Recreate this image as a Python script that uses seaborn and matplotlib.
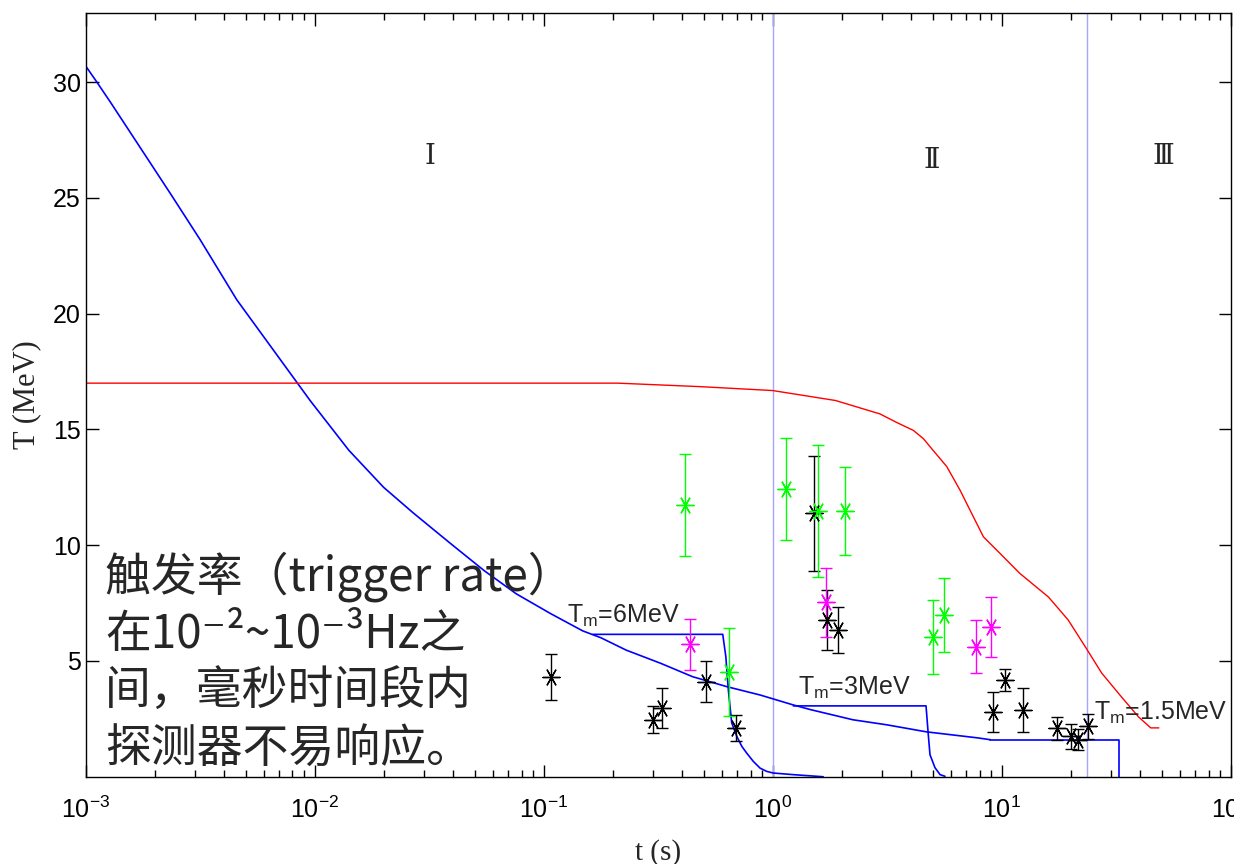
import matplotlib
matplotlib.use('Agg')
import matplotlib.pyplot as plt
import seaborn as sns
from matplotlib.ticker import LogLocator, NullFormatter

# ---- data ----
# detection threshold curve (blue, decreasing)
thr_t = [0.001, 0.00112, 0.00129, 0.00234, 0.00316, 0.00457, 0.00955,
         0.0141, 0.0200, 0.0269, 0.0389, 0.0550, 0.0759, 0.107, 0.148, 0.178,
         0.229, 0.324, 0.447, 0.631, 0.881, 1.23, 1.46, 2.24, 3.16, 4.68, 7.82, 8.91]
thr_T = [30.7, 30.0, 29.1, 25.2, 23.2, 20.6, 16.25,
         14.1, 12.5, 11.4, 10.1, 8.9, 7.9, 7.05, 6.3, 6.0,
         5.47, 4.9, 4.32, 3.89, 3.53, 3.1, 2.9, 2.46, 2.24, 1.94, 1.68, 1.6]

# red curve
red_t = [0.001, 0.21, 0.48, 1.0, 1.88, 2.94, 3.48, 4.11, 4.55, 5.01, 5.75, 6.58,
         7.28, 8.32, 9.84, 12.0, 16.0, 19.5, 23.2, 27.3, 33.3, 39.5, 44.7, 48.5]
red_T = [17.0, 17.0, 16.85, 16.68, 16.25, 15.67, 15.3, 14.96, 14.6, 14.1, 13.4, 12.37,
         11.5, 10.36, 9.64, 8.78, 7.76, 6.77, 5.6, 4.48, 3.45, 2.59, 2.11, 2.11]

# Tm step curves (blue)
tm6_t = [0.164, 0.605, 0.624, 0.640, 0.662, 0.697, 0.733, 0.770, 0.823, 0.881,
         0.942, 1.006, 1.23, 1.66]
tm6_T = [6.15, 6.15, 5.19, 3.75, 2.33, 1.74, 1.31, 1.02, 0.66, 0.37,
         0.23, 0.16, 0.09, 0.0]
tm3_t = [1.23, 4.67, 4.77, 4.86, 5.11, 5.38, 5.65]
tm3_T = [3.06, 3.06, 1.9, 0.95, 0.39, 0.09, 0.02]
tm15_t = [8.9, 32.5, 32.5]
tm15_T = [1.6, 1.6, 0.0]

# measured points
blk_t = [0.108, 0.30, 0.327, 0.51, 0.69, 1.52, 1.72, 1.93, 9.2, 10.3, 12.4, 17.5, 20.1, 21.5, 23.7]
blk_T = [4.32, 2.46, 2.96, 4.11, 2.1, 11.37, 6.77, 6.34, 2.81, 4.18, 2.89, 2.1, 1.74, 1.6, 2.17]
blk_e = [1.0, 0.58, 0.86, 0.9, 0.55, 2.5, 1.3, 1.0, 0.86, 0.48, 0.95, 0.5, 0.53, 0.45, 0.52]

grn_t = [0.413, 0.645, 1.14, 1.57, 2.07, 5.03, 5.59]
grn_T = [11.72, 4.54, 12.44, 11.47, 11.47, 6.05, 6.98]
grn_e = [2.2, 1.9, 2.2, 2.85, 1.9, 1.6, 1.6]

mag_t = [0.435, 1.70, 7.68, 9.0]
mag_T = [5.72, 7.53, 5.62, 6.48]
mag_e = [1.1, 1.5, 1.13, 1.3]

region_lines = [1.0, 23.5]
region_names = ['Ⅰ', 'Ⅱ', 'Ⅲ']
region_pos_t = [0.0319, 4.95, 50.7]
region_pos_T = [26.8, 26.6, 26.8]

tm_labels = ['$\\mathregular{T_m}$=6MeV', '$\\mathregular{T_m}$=3MeV', '$\\mathregular{T_m}$=1.5MeV']
tm_label_t = [0.1265, 1.29, 25.3]
tm_label_T = [6.64, 3.53, 2.46]

note = '触发率（trigger rate）\n在10⁻²~10⁻³Hz之\n间，毫秒时间段内\n探测器不易响应。'

# ---- style ----
sns.set_theme(style='ticks')
plt.rcParams['font.family'] = ['Liberation Sans', 'DejaVu Sans']
plt.rcParams['xtick.direction'] = 'in'
plt.rcParams['ytick.direction'] = 'in'
plt.rcParams['axes.edgecolor'] = 'black'
plt.rcParams['axes.linewidth'] = 1.0

fig = plt.figure(figsize=(12.34, 8.64), dpi=100)
ax = fig.add_axes([0.0694, 0.101, 0.928, 0.8843])

for xv in region_lines:
    ax.axvline(xv, color='#a5a5ff', lw=1.0, zorder=1)

sns.lineplot(x=thr_t, y=thr_T, ax=ax, color='blue', lw=1.2, sort=False, estimator=None)
sns.lineplot(x=red_t, y=red_T, ax=ax, color='red', lw=1.0, sort=False, estimator=None)
sns.lineplot(x=tm6_t, y=tm6_T, ax=ax, color='blue', lw=1.2, sort=False, estimator=None)
sns.lineplot(x=tm3_t, y=tm3_T, ax=ax, color='blue', lw=1.2, sort=False, estimator=None)
sns.lineplot(x=tm15_t, y=tm15_T, ax=ax, color='blue', lw=1.2, sort=False, estimator=None)

for tt, TT, ee, c in [(blk_t, blk_T, blk_e, 'black'),
                      (grn_t, grn_T, grn_e, '#00ff00'),
                      (mag_t, mag_T, mag_e, '#ff00ff')]:
    ax.errorbar(tt, TT, yerr=ee, fmt='none', ecolor=c, elinewidth=1.0, capsize=4, capthick=1.0)
    # asterisk marker: horizontal arm plus two diagonals
    sns.scatterplot(x=tt, y=TT, ax=ax, marker=(6, 2, 90), s=150, color=c,
                    edgecolor=c, linewidth=1.0, zorder=5)

ax.set_xscale('log')
ax.set_xlim(1e-3, 1e2)
ax.set_ylim(0, 33)
ax.set_yticks([5, 10, 15, 20, 25, 30])
ax.xaxis.set_minor_locator(LogLocator(base=10, subs=range(2, 10), numticks=20))
ax.xaxis.set_minor_formatter(NullFormatter())
ax.tick_params(which='both', top=True, right=True, labelsize=18, colors='black')
ax.tick_params(which='major', length=9, width=1)
ax.tick_params(which='minor', length=5, width=1)
ax.tick_params(axis='x', which='major', pad=14)

ax.set_xlabel('t (s)', family='Liberation Serif', fontsize=21, labelpad=12)
ax.set_ylabel('T (MeV)', family='Liberation Serif', fontsize=22, labelpad=8)

for name, xt, yt in zip(region_names, region_pos_t, region_pos_T):
    ax.text(xt, yt, name, fontsize=20, ha='center', va='center',
            family=['DejaVu Serif', 'DejaVu Sans', 'Noto Sans CJK SC'])

for lab, xt, yt in zip(tm_labels, tm_label_t, tm_label_T):
    ax.text(xt, yt, lab, fontsize=18, ha='left', va='baseline')

ax.text(0.017, 0.295, note, transform=ax.transAxes, fontsize=33, ha='left', va='top',
        linespacing=1.23, family=['Noto Sans CJK SC', 'DejaVu Sans'])

sns.despine(ax=ax, top=False, right=False)
fig.savefig('out.png', dpi=100)
